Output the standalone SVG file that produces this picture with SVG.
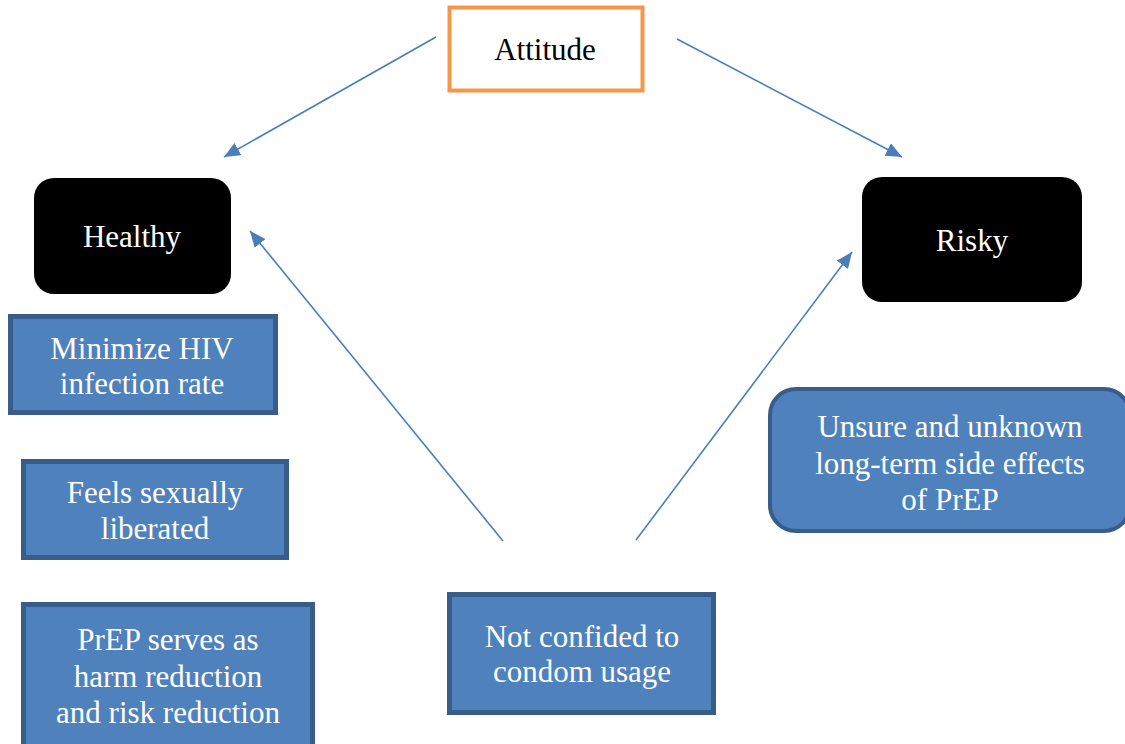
<svg xmlns="http://www.w3.org/2000/svg" width="1125" height="744" viewBox="0 0 1125 744">
<defs>
<marker id="arr" markerUnits="userSpaceOnUse" markerWidth="18" markerHeight="14" refX="16" refY="7" orient="auto">
<path d="M0,0 L16,7 L0,14 Z" fill="#4A7EBB"/>
</marker>
</defs>
<style>
text{font-family:'Liberation Serif','Tinos','Noto Serif','DejaVu Serif','Times New Roman','Times','FreeSerif',serif;font-size:31px;text-anchor:middle}
.t{fill:#ffffff}
.tb{fill:#000000}
.blue{fill:#4F81BD;stroke:#385D8A;stroke-width:5}
.black{fill:#000000}
.c{stroke:#4A7EBB;stroke-width:1.6;fill:none;marker-end:url(#arr)}
</style>
<rect width="1125" height="744" fill="#ffffff"/>
<g id="connectors">
<line class="c" x1="436" y1="37" x2="224" y2="157"/>
<line class="c" x1="677" y1="39" x2="902" y2="157"/>
<line class="c" x1="503" y1="541" x2="250" y2="231"/>
<line class="c" x1="636" y1="540" x2="852" y2="252"/>
</g>
<g id="attitude">
<rect x="449.5" y="7.5" width="193" height="83" fill="#ffffff" stroke="#F79646" stroke-width="4"/>
<text class="tb" x="545" y="60">Attitude</text>
</g>
<g id="healthy">
<rect class="black" x="34" y="178" width="197" height="116" rx="20"/>
<text class="t" x="132" y="247">Healthy</text>
</g>
<g id="risky">
<rect class="black" x="862" y="177" width="220" height="125" rx="20"/>
<text class="t" x="972" y="251">Risky</text>
</g>
<g id="minimize">
<rect class="blue" x="10.5" y="316.5" width="265" height="96"/>
<text class="t" x="142" y="359">Minimize HIV</text>
<text class="t" x="142" y="394">infection rate</text>
</g>
<g id="feels">
<rect class="blue" x="23.5" y="461.5" width="263" height="96"/>
<text class="t" x="155" y="503">Feels sexually</text>
<text class="t" x="155" y="539">liberated</text>
</g>
<g id="prep">
<rect class="blue" x="23.5" y="604.5" width="289" height="150"/>
<text class="t" x="168" y="650">PrEP serves as</text>
<text class="t" x="168" y="687">harm reduction</text>
<text class="t" x="168" y="723">and risk reduction</text>
</g>
<g id="condom">
<rect class="blue" x="449.5" y="594.5" width="264" height="118"/>
<text class="t" x="582" y="647">Not confided to</text>
<text class="t" x="582" y="682">condom usage</text>
</g>
<g id="unsure">
<rect x="770" y="389" width="360" height="142" rx="26" fill="#4F81BD" stroke="#385D8A" stroke-width="4"/>
<text class="t" x="950" y="437">Unsure and unknown</text>
<text class="t" x="950" y="474">long-term side effects</text>
<text class="t" x="950" y="510">of PrEP</text>
</g>
</svg>
